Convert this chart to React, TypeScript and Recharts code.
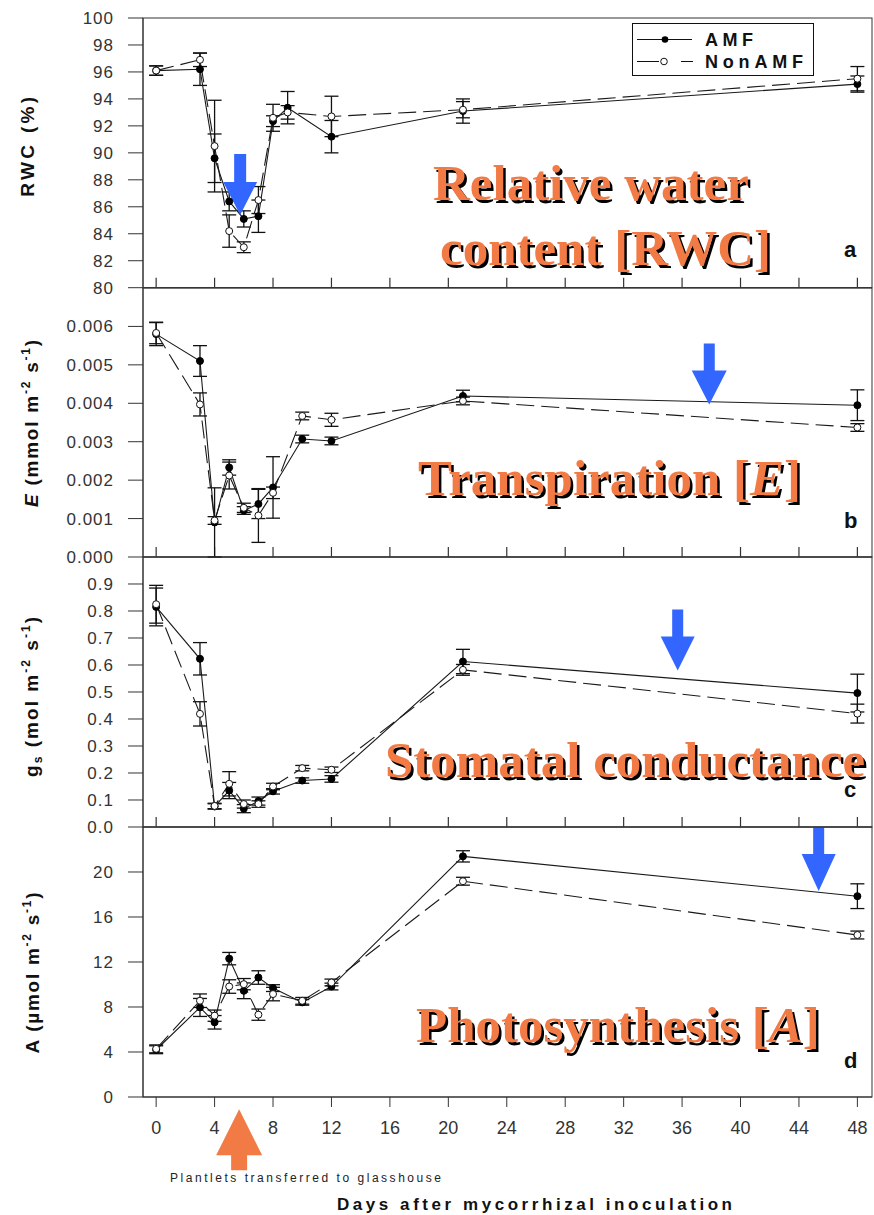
import React from "react"
import { ErrorBar, Label, Legend, Line, LineChart, ReferenceArea, ReferenceDot, XAxis, YAxis } from "recharts"

// sampling days (RWC was measured on day 9, gas exchange on day 10)
const daysRwc = [0, 3, 4, 5, 6, 7, 8, 9, 12, 21, 48]
const daysGas = [0, 3, 4, 5, 6, 7, 8, 10, 12, 21, 48]

// a: relative water content (%)
const rwcAmf = [96.1, 96.2, 89.6, 86.4, 85.1, 85.3, 92.35, 93.35, 91.2, 93.1, 95.1]
const rwcAmfErr = [0.35, 1.2, 1.8, 0.7, 0.6, 1.2, 0.4, 1.2, 1.2, 0.9, 0.6]
const rwcNon = [96.1, 96.9, 90.5, 84.2, 83.0, 86.5, 92.6, 93.0, 92.7, 93.2, 95.5]
const rwcNonErr = [0.35, 0.5, 3.4, 1.2, 0.4, 1.0, 1.0, 0.5, 1.5, 0.6, 0.9]

// b: transpiration E (mmol m-2 s-1)
const eAmf = [0.0058, 0.0051, 0.0009, 0.00233, 0.00121, 0.00138, 0.00181, 0.00307, 0.00302, 0.00419, 0.00395]
const eAmfErr = [0.0003, 0.0004, 0.0009, 0.0002, 0.0001, 0.00038, 0.0008, 0.0001, 0.0001, 0.00015, 0.0004]
const eNon = [0.00583, 0.00397, 0.00095, 0.00212, 0.00128, 0.00108, 0.00167, 0.00367, 0.00357, 0.00406, 0.00337]
const eNonErr = [0.00028, 0.0003, 0.0001, 0.00035, 0.00012, 0.0007, 0.00015, 0.0001, 0.00017, 0.0001, 0.0001]

// c: stomatal conductance gs (mol m-2 s-1)
const gsAmf = [0.815, 0.623, 0.076, 0.135, 0.068, 0.096, 0.132, 0.172, 0.178, 0.613, 0.496]
const gsAmfErr = [0.07, 0.06, 0.01, 0.03, 0.015, 0.015, 0.01, 0.01, 0.012, 0.045, 0.07]
const gsNon = [0.825, 0.419, 0.078, 0.16, 0.085, 0.085, 0.15, 0.218, 0.212, 0.582, 0.42]
const gsNonErr = [0.07, 0.045, 0.01, 0.045, 0.015, 0.012, 0.012, 0.01, 0.01, 0.02, 0.035]

// d: photosynthesis A (umol m-2 s-1)
const aAmf = [4.2, 7.96, 6.64, 12.3, 9.44, 10.62, 9.68, 8.41, 9.82, 21.39, 17.85]
const aAmfErr = [0.35, 0.8, 0.6, 0.55, 0.7, 0.6, 0.3, 0.25, 0.3, 0.5, 1.1]
const aNon = [4.28, 8.56, 7.23, 9.82, 10.03, 7.32, 9.15, 8.55, 10.18, 19.18, 14.4]
const aNonErr = [0.35, 0.6, 0.5, 0.6, 0.5, 0.5, 0.6, 0.3, 0.3, 0.35, 0.35]

const xTicks = [0, 4, 8, 12, 16, 20, 24, 28, 32, 36, 40, 44, 48]
const rwcTicks = [80, 82, 84, 86, 88, 90, 92, 94, 96, 98, 100]
const eTicks = [0, 0.001, 0.002, 0.003, 0.004, 0.005, 0.006]
const gsTicks = [0, 0.1, 0.2, 0.3, 0.4, 0.5, 0.6, 0.7, 0.8, 0.9]
const aTicks = [0, 4, 8, 12, 16, 20]

const X_DOMAIN: [number, number] = [-0.9, 49]
const SANS = "'Liberation Sans', Arial, sans-serif"
const SERIF = "'Liberation Serif', 'Times New Roman', serif"
const BLUE = "#3366FF"
const ORANGE = "#F27B45"
const AXIS = "#333"

function buildRows(days: number[], amf: number[], amfErr: number[], non: number[], nonErr: number[]) {
  return days.map((day, i) => ({ day, amf: amf[i], amfErr: amfErr[i], non: non[i], nonErr: nonErr[i] }))
}

// arrow with its tip at (cx, cy)
function arrow(color: string, headW: number, headH: number, shaftW: number, shaftH: number, up = false) {
  return (p: any) => {
    const { cx, cy } = p
    const s = up ? -1 : 1
    const hb = cy - s * headH
    const st = cy - s * (headH + shaftH)
    const d = `M${cx},${cy} L${cx - headW / 2},${hb} L${cx - shaftW / 2},${hb} L${cx - shaftW / 2},${st} L${cx + shaftW / 2},${st} L${cx + shaftW / 2},${hb} L${cx + headW / 2},${hb} Z`
    return <path d={d} fill={color} />
  }
}

// plot frame; the upper panels also get short inward ticks on the shared day axis
function frame(withTicks: boolean) {
  return (p: any) => {
    const { x, y, width, height } = p
    const span = X_DOMAIN[1] - X_DOMAIN[0]
    const bottomY = y + height
    return (
      <g>
        <rect x={x} y={y} width={width} height={height} fill="none" stroke={AXIS} />
        {withTicks &&
          xTicks.map((t) => {
            const tx = x + ((t - X_DOMAIN[0]) / span) * width
            return <line key={t} x1={tx} x2={tx} y1={bottomY} y2={bottomY - 10} stroke={AXIS} strokeWidth={1.2} />
          })}
      </g>
    )
  }
}

function yTitle(x: number, dy: number, len: number, parts: React.ReactNode) {
  return (props: any) => {
    const vb = props.viewBox
    const cy = vb.y + vb.height / 2 + dy
    return (
      <text
        x={x}
        y={cy}
        transform={`rotate(-90 ${x} ${cy})`}
        textAnchor="middle"
        textLength={len}
        lengthAdjust="spacing"
        fontFamily={SANS}
        fontWeight="bold"
        fontSize={19}
        fill="#111"
      >
        {parts}
      </text>
    )
  }
}

// superscript followed by text back on the baseline
const sup = (t: string, after: string) => [
  <tspan key={t + "a"} fontSize={12} dy={-8}>
    {t}
  </tspan>,
  <tspan key={t + "b"} dy={8}>
    {after}
  </tspan>,
]

function LegendBox() {
  return (
    <svg width={182} height={53} style={{ display: "block" }}>
      <rect x={0.5} y={0.5} width={181} height={52} fill="#fff" stroke="#111" />
      <line x1={5} x2={60} y1={16.5} y2={16.5} stroke="#111" />
      <circle cx={33} cy={16.5} r={3.3} fill="#000" />
      <text x={73} y={23} fontFamily={SANS} fontWeight="bold" fontSize={18} textLength={48} lengthAdjust="spacing" fill="#111">
        AMF
      </text>
      <line x1={5} x2={27} y1={38.5} y2={38.5} stroke="#111" />
      <circle cx={32} cy={38.5} r={3.3} fill="#fff" stroke="#111" />
      <line x1={49} x2={61} y1={38.5} y2={38.5} stroke="#111" />
      <text x={73} y={45} fontFamily={SANS} fontWeight="bold" fontSize={18} textLength={98} lengthAdjust="spacing" fill="#111">
        NonAMF
      </text>
    </svg>
  )
}

interface PanelProps {
  rows: ReturnType<typeof buildRows>
  top: number
  layer: number
  plotH: number
  axisH: number
  domain: [number, number]
  ticks: number[]
  fmt: (v: number) => string
  bottom: boolean
  yLabel: (p: any) => React.ReactElement
  arrows: { x: number; y: number; shape: (p: any) => React.ReactElement }[]
  legend?: boolean
}

function Panel({ rows, top, layer, plotH, axisH, domain, ticks, fmt, bottom, yLabel, arrows, legend }: PanelProps) {
  const height = 18 + plotH + axisH
  return (
    <div style={{ position: "absolute", left: 0, top: top - 18, width: 874, height, zIndex: layer }}>
      <LineChart width={874} height={height} data={rows} margin={{ top: 18, right: 2, left: 0, bottom: 0 }}>
        <XAxis
          dataKey="day"
          type="number"
          domain={X_DOMAIN}
          ticks={xTicks}
          interval={0}
          allowDataOverflow
          height={axisH}
          tickSize={10}
          tickLine={bottom}
          tickMargin={bottom ? 14 : 0}
          tickFormatter={bottom ? (v: number) => String(v) : () => ""}
          tick={{ fill: AXIS, fontSize: 18, fontFamily: SANS }}
          stroke={AXIS}
        >
          {bottom && (
            <Label
              content={(p: any) => (
                <text
                  x={p.viewBox.x + p.viewBox.width / 2 + 27}
                  y={p.viewBox.y + 113.5}
                  textAnchor="middle"
                  fontFamily={SANS}
                  fontWeight="bold"
                  fontSize={17}
                  textLength={395}
                  lengthAdjust="spacing"
                  fill="#111"
                >
                  Days after mycorrhizal inoculation
                </text>
              )}
            />
          )}
        </XAxis>
        <YAxis
          type="number"
          domain={domain}
          ticks={ticks}
          interval={0}
          width={143}
          tickSize={15}
          tickMargin={14}
          tickFormatter={fmt}
          tick={{ fill: AXIS, fontSize: 17, fontFamily: SANS, letterSpacing: 1 }}
          stroke={AXIS}
        >
          <Label content={yLabel} />
        </YAxis>
        <ReferenceArea
          x1={X_DOMAIN[0]}
          x2={X_DOMAIN[1]}
          y1={domain[0]}
          y2={domain[1]}
          ifOverflow="visible"
          shape={frame(!bottom)}
        />
        <Line
          dataKey="amf"
          name="AMF"
          stroke="#1a1a1a"
          strokeWidth={1.1}
          dot={{ r: 3.5, fill: "#000", stroke: "#000", strokeWidth: 1 }}
          activeDot={false}
          isAnimationActive={false}
        >
          <ErrorBar dataKey="amfErr" width={7} stroke="#111" strokeWidth={1.3} direction="y" />
        </Line>
        <Line
          dataKey="non"
          name="NonAMF"
          stroke="#1a1a1a"
          strokeWidth={1.1}
          strokeDasharray="18 7"
          dot={{ r: 3.5, fill: "#fff", stroke: "#111", strokeWidth: 1, strokeDasharray: "" }}
          activeDot={false}
          isAnimationActive={false}
        >
          <ErrorBar dataKey="nonErr" width={7} stroke="#111" strokeWidth={1.3} direction="y" />
        </Line>
        {arrows.map((a, i) => (
          <ReferenceDot key={i} x={a.x} y={a.y} ifOverflow="visible" shape={a.shape} />
        ))}
        {legend && (
          <Legend
            layout="horizontal"
            verticalAlign="middle"
            align="center"
            content={() => <LegendBox />}
            wrapperStyle={{ top: 23, left: 632, width: 182, height: 53 }}
          />
        )}
      </LineChart>
    </div>
  )
}

function Title({ x, y, children }: { x: number; y: number; children: React.ReactNode }) {
  const common = { fontFamily: SERIF, fontWeight: "bold" as const, fontSize: 51 }
  return (
    <g>
      <text x={x + 2.5} y={y + 2.5} fill="#000" {...common}>
        {children}
      </text>
      <text x={x} y={y} fill={ORANGE} {...common}>
        {children}
      </text>
    </g>
  )
}

export default function App() {
  const rowsA = buildRows(daysRwc, rwcAmf, rwcAmfErr, rwcNon, rwcNonErr)
  const rowsB = buildRows(daysGas, eAmf, eAmfErr, eNon, eNonErr)
  const rowsC = buildRows(daysGas, gsAmf, gsAmfErr, gsNon, gsNonErr)
  const rowsD = buildRows(daysGas, aAmf, aAmfErr, aNon, aNonErr)

  return (
    <div style={{ position: "absolute", left: 0, top: 0, width: 874, height: 1215, background: "#fff" }}>
      <Panel
        rows={rowsA}
        top={18}
        layer={4}
        plotH={269.7}
        axisH={12.3}
        domain={[80, 100]}
        ticks={rwcTicks}
        fmt={(v) => String(v)}
        bottom={false}
        legend
        yLabel={yTitle(34, -6, 100, "RWC (%)")}
        arrows={[{ x: 5.75, y: 85.4, shape: arrow(BLUE, 34, 33, 12, 28) }]}
      />
      <Panel
        rows={rowsB}
        top={287.7}
        layer={3}
        plotH={269}
        axisH={12.3}
        domain={[0, 0.007]}
        ticks={eTicks}
        fmt={(v) => v.toFixed(3)}
        bottom={false}
        yLabel={yTitle(38, 1, 167, [
          <tspan key="e" fontStyle="italic">E</tspan>,
          " (mmol m",
          ...sup("-2", " s"),
          ...sup("-1", ")"),
        ])}
        arrows={[{ x: 37.86, y: 0.00397, shape: arrow(BLUE, 35, 34, 11, 27) }]}
      />
      <Panel
        rows={rowsC}
        top={556.7}
        layer={2}
        plotH={270}
        axisH={12.3}
        domain={[0, 1]}
        ticks={gsTicks}
        fmt={(v) => v.toFixed(1)}
        bottom={false}
        yLabel={yTitle(38, 5, 160, [
          "g",
          <tspan key="s" fontSize={12} dy={4}>s</tspan>,
          <tspan key="r" dy={-4}> (mol m</tspan>,
          ...sup("-2", " s"),
          ...sup("-1", ")"),
        ])}
        arrows={[{ x: 35.7, y: 0.58, shape: arrow(BLUE, 34, 34, 11, 27) }]}
      />
      <Panel
        rows={rowsD}
        top={826.7}
        layer={1}
        plotH={270}
        axisH={118.3}
        domain={[0, 24]}
        ticks={aTicks}
        fmt={(v) => String(v)}
        bottom
        yLabel={yTitle(39, 11, 161, ["A (\u00b5mol m", ...sup("-2", " s"), ...sup("-1", ")")])}
        arrows={[
          { x: 45.35, y: 18.3, shape: arrow(BLUE, 34, 37, 11, 27) },
          { x: 5.68, y: -1.09, shape: arrow(ORANGE, 46, 46, 16, 15, true) },
        ]}
      />
      <svg width={874} height={1215} style={{ position: "absolute", left: 0, top: 0, pointerEvents: "none", zIndex: 5 }}>
        <Title x={433} y={200}>Relative water</Title>
        <Title x={440} y={265}>content [RWC]</Title>
        <Title x={418} y={495}>
          Transpiration [<tspan fontStyle="italic">E</tspan>]
        </Title>
        <Title x={385} y={777}>Stomatal conductance</Title>
        <Title x={416} y={1042}>
          Photosynthesis [<tspan fontStyle="italic">A</tspan>]
        </Title>
        {[
          ["a", 257],
          ["b", 528],
          ["c", 797],
          ["d", 1068],
        ].map(([t, y]) => (
          <text key={t as string} x={844} y={y as number} fontFamily={SANS} fontWeight="bold" fontSize={22} fill="#111">
            {t}
          </text>
        ))}
        <text x={170} y={1182} fontFamily={SANS} fontSize={12} textLength={271} lengthAdjust="spacing" fill="#222">
          Plantlets transferred to glasshouse
        </text>
      </svg>
    </div>
  )
}
